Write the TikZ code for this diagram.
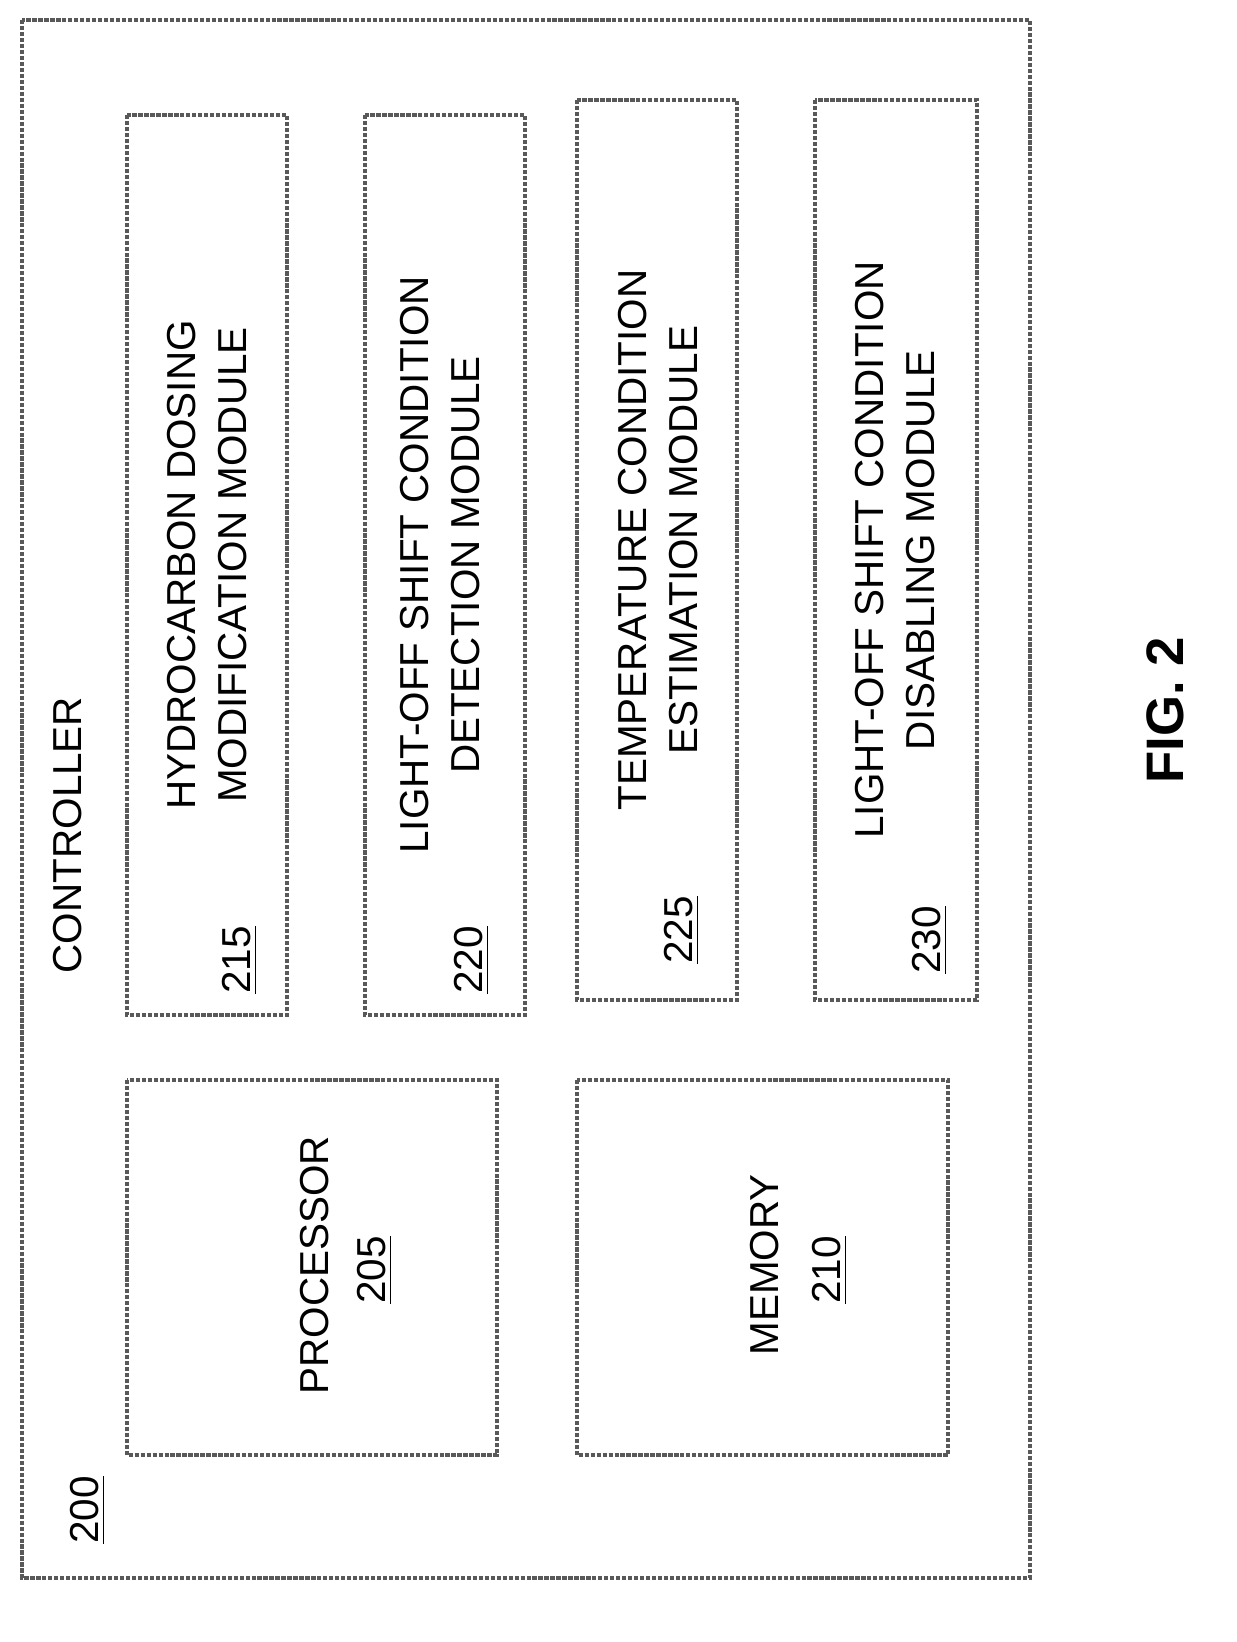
\documentclass[tikz,border=0pt]{standalone}
\usepackage{fontspec}
\setmainfont{Liberation Sans}
\usetikzlibrary{positioning}
\begin{document}
\begin{tikzpicture}[x=0.01cm,y=-0.01cm,
  blk/.style={draw=black!65,line width=1pt,dash pattern=on 1.2pt off 0.5pt},
  lbl/.style={rotate=90,align=center,font=\fontsize{11.5}{14.5}\selectfont,inner sep=0pt}]
\useasboundingbox (0,0) rectangle (1237,1642);
% outer controller box
\draw[blk] (22,20) rectangle (1030,1578);
\node[lbl] (ctrl) at (68,835) {CONTROLLER};
\node[lbl] (n200) at (88,1510) {\underline{200}};
% modules
\draw[blk] (127,115) rectangle (287,1015);
\node[lbl] (m215) at (207,565) {HYDROCARBON DOSING\\MODIFICATION MODULE};
\node[lbl] (n215) at (240,960) {\underline{215}};
\draw[blk] (365,115) rectangle (525,1015);
\node[lbl] (m220) at (440,565) {LIGHT-OFF SHIFT CONDITION\\DETECTION MODULE};
\node[lbl] (n220) at (472,960) {\underline{220}};
\draw[blk] (577,100) rectangle (737,1000);
\node[lbl] (m225) at (658,540) {TEMPERATURE CONDITION\\ESTIMATION MODULE};
\node[lbl] (n225) at (682,930) {\underline{225}};
\draw[blk] (815,100) rectangle (977,1000);
\node[lbl] (m230) at (895,550) {LIGHT-OFF SHIFT CONDITION\\DISABLING MODULE};
\node[lbl] (n230) at (930,940) {\underline{230}};
% processor and memory
\draw[blk] (127,1080) rectangle (497,1455);
\node[lbl] (proc) at (315,1265) {PROCESSOR};
\node[lbl] (n205) at (375,1270) {\underline{205}};
\draw[blk] (577,1080) rectangle (948,1455);
\node[lbl] (mem) at (765,1265) {MEMORY};
\node[lbl] (n210) at (830,1270) {\underline{210}};
\node[lbl,font=\fontsize{15}{18}\selectfont\bfseries] (fig) at (1165,710) {FIG. 2};
\end{tikzpicture}
\end{document}
